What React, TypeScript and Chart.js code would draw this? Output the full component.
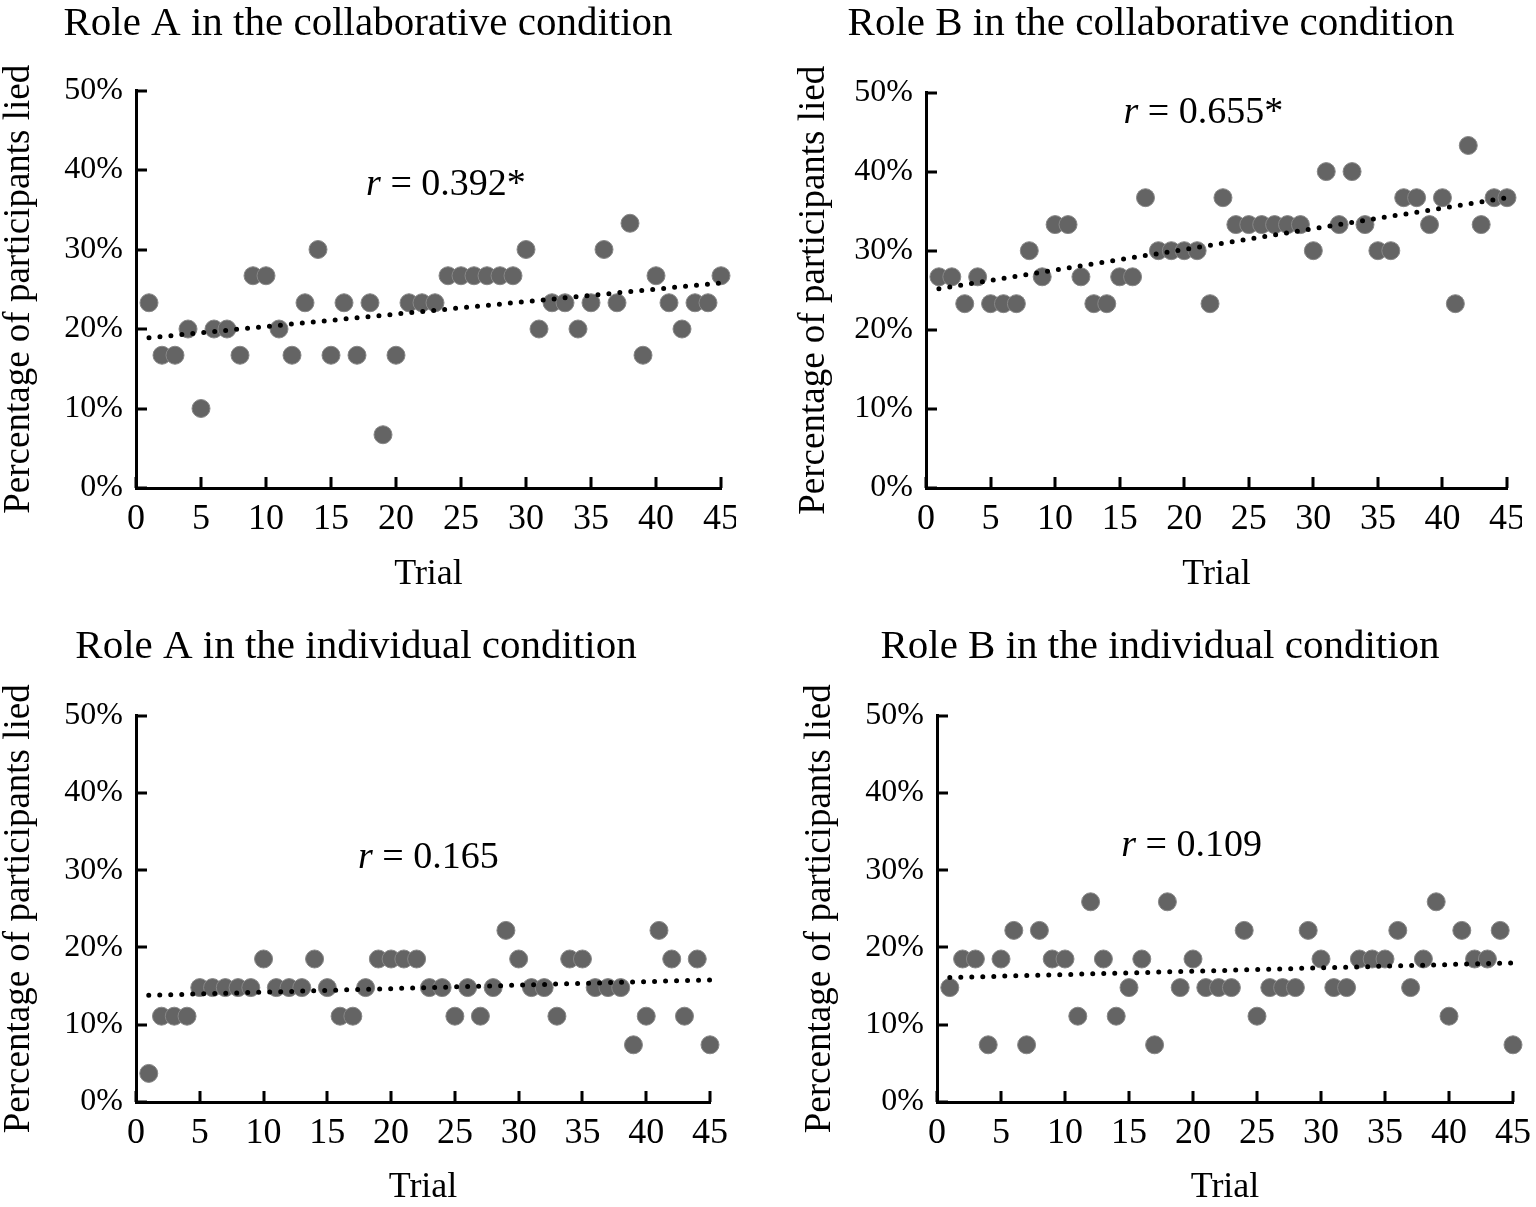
import { useEffect, useRef } from 'react'
import { Chart, registerables, type ChartConfiguration, type Plugin } from 'chart.js'

Chart.register(...registerables)

const FONT = '"Liberation Serif", "Times New Roman", serif'

// trial numbers (x) shared by all four panels
const trials = [
  1, 2, 3, 4, 5, 6, 7, 8, 9, 10, 11, 12, 13, 14, 15, 16, 17, 18, 19, 20, 21, 22, 23,
  24, 25, 26, 27, 28, 29, 30, 31, 32, 33, 34, 35, 36, 37, 38, 39, 40, 41, 42, 43, 44, 45,
]

// percentage of participants who lied, per trial
const collabA = [
  23.3, 16.7, 16.7, 20, 10, 20, 20, 16.7, 26.7, 26.7, 20, 16.7, 23.3, 30, 16.7, 23.3, 16.7,
  23.3, 6.7, 16.7, 23.3, 23.3, 23.3, 26.7, 26.7, 26.7, 26.7, 26.7, 26.7, 30, 20, 23.3, 23.3,
  20, 23.3, 30, 23.3, 33.3, 16.7, 26.7, 23.3, 20, 23.3, 23.3, 26.7,
]
const collabB = [
  26.7, 26.7, 23.3, 26.7, 23.3, 23.3, 23.3, 30, 26.7, 33.3, 33.3, 26.7, 23.3, 23.3, 26.7, 26.7,
  36.7, 30, 30, 30, 30, 23.3, 36.7, 33.3, 33.3, 33.3, 33.3, 33.3, 33.3, 30, 40, 33.3, 40, 33.3,
  30, 30, 36.7, 36.7, 33.3, 36.7, 23.3, 43.3, 33.3, 36.7, 36.7,
]
const indivA = [
  3.7, 11.1, 11.1, 11.1, 14.8, 14.8, 14.8, 14.8, 14.8, 18.5, 14.8, 14.8, 14.8, 18.5, 14.8, 11.1,
  11.1, 14.8, 18.5, 18.5, 18.5, 18.5, 14.8, 14.8, 11.1, 14.8, 11.1, 14.8, 22.2, 18.5, 14.8, 14.8,
  11.1, 18.5, 18.5, 14.8, 14.8, 14.8, 7.4, 11.1, 22.2, 18.5, 11.1, 18.5, 7.4,
]
const indivB = [
  14.8, 18.5, 18.5, 7.4, 18.5, 22.2, 7.4, 22.2, 18.5, 18.5, 11.1, 25.9, 18.5, 11.1, 14.8, 18.5,
  7.4, 25.9, 14.8, 18.5, 14.8, 14.8, 14.8, 22.2, 11.1, 14.8, 14.8, 14.8, 22.2, 18.5, 14.8, 14.8,
  18.5, 18.5, 18.5, 22.2, 14.8, 18.5, 25.9, 11.1, 22.2, 18.5, 18.5, 22.2, 7.4,
]

// linear trend lines, read at trial 1 and trial 45
const trendX = [1, 45]
const trendCollabA = [18.9, 25.8]
const trendCollabB = [25.2, 36.7]
const trendIndivA = [13.8, 15.8]
const trendIndivB = [16.1, 18.0]

const xTickLabels = ['0', '5', '10', '15', '20', '25', '30', '35', '40', '45']
const yTickLabels = ['0%', '10%', '20%', '30%', '40%', '50%']

interface PanelSpec {
  title: string
  values: number[]
  trend: number[]
  rText: string
  rAt: [number, number]
  box: { left: number; top: number; width: number; height: number }
  yWidth: number
  xHeight: number
  padRight: number
  titlePad: { top: number; bottom: number }
  yTitlePad: number
  xTitlePad: number
}

const panels: PanelSpec[] = [
  {
    title: 'Role A in the collaborative condition',
    values: collabA,
    trend: trendCollabA,
    rText: ' = 0.392*',
    rAt: [17.7, 38.1],
    box: { left: 0, top: 0, width: 736, height: 603 },
    yWidth: 136,
    xHeight: 115,
    padRight: 15,
    titlePad: { top: 4, bottom: 45.5 },
    yTitlePad: 1,
    xTitlePad: 10,
  },
  {
    title: 'Role B in the collaborative condition',
    values: collabB,
    trend: trendCollabB,
    rText: ' = 0.655*',
    rAt: [15.3, 47.4],
    box: { left: 780, top: 0, width: 742, height: 603 },
    yWidth: 146,
    xHeight: 115,
    padRight: 15,
    titlePad: { top: 4, bottom: 47.5 },
    yTitlePad: 16,
    xTitlePad: 10,
  },
  {
    title: 'Role A in the individual condition',
    values: indivA,
    trend: trendIndivA,
    rText: ' = 0.165',
    rAt: [17.4, 31.6],
    box: { left: -20, top: 603, width: 752, height: 604 },
    yWidth: 156,
    xHeight: 105,
    padRight: 22,
    titlePad: { top: 24, bottom: 47.5 },
    yTitlePad: 21,
    xTitlePad: 1,
  },
  {
    title: 'Role B in the individual condition',
    values: indivB,
    trend: trendIndivB,
    rText: ' = 0.109',
    rAt: [14.4, 33.1],
    box: { left: 790, top: 603, width: 740, height: 604 },
    yWidth: 147,
    xHeight: 105,
    padRight: 17,
    titlePad: { top: 24, bottom: 47.5 },
    yTitlePad: 11.5,
    xTitlePad: 1,
  },
]

// draws the "r = ..." note at a data position, with an italic r
const rLabelPlugin: Plugin<'scatter'> = {
  id: 'rLabel',
  afterDatasetsDraw(chart, _args, opts: any) {
    const xs = chart.scales.x
    const ys = chart.scales.y
    if (!xs || !ys) return
    const px = xs.getPixelForValue(opts.at[0])
    const py = ys.getPixelForValue(opts.at[1])
    const { ctx } = chart
    ctx.save()
    ctx.fillStyle = '#000'
    ctx.textAlign = 'left'
    ctx.textBaseline = 'middle'
    ctx.font = `italic 38px ${FONT}`
    ctx.fillText('r', px, py)
    const w = ctx.measureText('r').width
    ctx.font = `38px ${FONT}`
    ctx.fillText(opts.text, px + w, py)
    ctx.restore()
  },
}

// tick marks pointing into the plot, as in the original figure
const innerTicksPlugin: Plugin<'scatter'> = {
  id: 'innerTicks',
  beforeDatasetsDraw(chart) {
    const xs = chart.scales.x
    const ys = chart.scales.y
    if (!xs || !ys) return
    const { ctx, chartArea } = chart
    ctx.save()
    ctx.strokeStyle = '#000'
    ctx.lineWidth = 3
    ctx.beginPath()
    for (const t of xs.ticks) {
      const px = Math.round(xs.getPixelForValue(t.value))
      ctx.moveTo(px, chartArea.bottom)
      ctx.lineTo(px, chartArea.bottom - 11)
    }
    for (const t of ys.ticks) {
      const py = Math.round(ys.getPixelForValue(t.value))
      ctx.moveTo(chartArea.left, py)
      ctx.lineTo(chartArea.left + 11, py)
    }
    ctx.stroke()
    ctx.restore()
  },
}

function Panel({ spec }: { spec: PanelSpec }) {
  const canvasRef = useRef<HTMLCanvasElement>(null)

  useEffect(() => {
    const canvas = canvasRef.current
    if (!canvas) return

    const points = trials.map((t, i) => ({ x: t, y: spec.values[i] }))
    const trendPoints = trendX.map((t, i) => ({ x: t, y: spec.trend[i] }))

    const axisGrid = {
      display: false,
      drawOnChartArea: false,
      drawTicks: false,
      tickLength: 0,
    }

    const config: ChartConfiguration<'scatter'> = {
      type: 'scatter',
      data: {
        datasets: [
          {
            type: 'line' as any,
            data: trendPoints,
            borderColor: '#000',
            borderWidth: 5,
            borderDash: [0, 11],
            borderCapStyle: 'round',
            pointRadius: 0,
            tension: 0,
            fill: false,
            clip: false,
          } as any,
          {
            data: points,
            pointRadius: 9,
            pointBackgroundColor: '#646464',
            pointBorderColor: '#878787',
            pointBorderWidth: 1,
            clip: false,
          } as any,
        ],
      },
      options: {
        responsive: false,
        animation: false,
        events: [],
        layout: { padding: 0 },
        plugins: {
          legend: { display: false },
          tooltip: { enabled: false },
          title: {
            display: true,
            text: spec.title,
            color: '#000',
            font: { family: FONT, size: 41, weight: 'normal', lineHeight: 1 },
            padding: spec.titlePad,
          },
          rLabel: { at: spec.rAt, text: spec.rText },
        } as any,
        scales: {
          x: {
            type: 'linear',
            min: 0,
            max: 45,
            afterFit: (scale: any) => {
              scale.height = spec.xHeight
              scale.paddingLeft = 0
              scale.paddingRight = spec.padRight
            },
            ticks: {
              stepSize: 5,
              autoSkip: false,
              maxRotation: 0,
              padding: 10,
              color: '#000',
              font: { family: FONT, size: 36 },
              callback: (_v, i) => xTickLabels[i],
            },
            grid: axisGrid,
            border: { display: true, color: '#000', width: 3 },
            title: {
              display: true,
              text: 'Trial',
              color: '#000',
              font: { family: FONT, size: 36, lineHeight: 1 },
              padding: { top: 0, bottom: spec.xTitlePad },
            },
          },
          y: {
            type: 'linear',
            min: 0,
            max: 50,
            afterFit: (scale: any) => {
              scale.width = spec.yWidth
              scale.paddingTop = 0
              scale.paddingBottom = 0
            },
            ticks: {
              stepSize: 10,
              padding: 13,
              color: '#000',
              font: { family: FONT, size: 32 },
              callback: (_v, i) => yTickLabels[i],
            },
            grid: axisGrid,
            border: { display: true, color: '#000', width: 3 },
            title: {
              display: true,
              text: 'Percentage of participants lied',
              color: '#000',
              font: { family: FONT, size: 37, lineHeight: 1 },
              padding: { top: spec.yTitlePad, bottom: 0 },
            },
          },
        },
      },
      plugins: [innerTicksPlugin, rLabelPlugin],
    }

    const chart = new Chart(canvas, config)
    return () => {
      chart.destroy()
    }
  }, [spec])

  const { left, top, width, height } = spec.box
  return (
    <canvas
      ref={canvasRef}
      width={width}
      height={height}
      style={{ position: 'absolute', left, top, width, height }}
    />
  )
}

export default function App() {
  return (
    <div
      style={{
        position: 'absolute',
        left: 0,
        top: 0,
        width: 1536,
        height: 1207,
        background: '#fff',
      }}
    >
      {panels.map((p) => (
        <Panel key={p.title} spec={p} />
      ))}
    </div>
  )
}
